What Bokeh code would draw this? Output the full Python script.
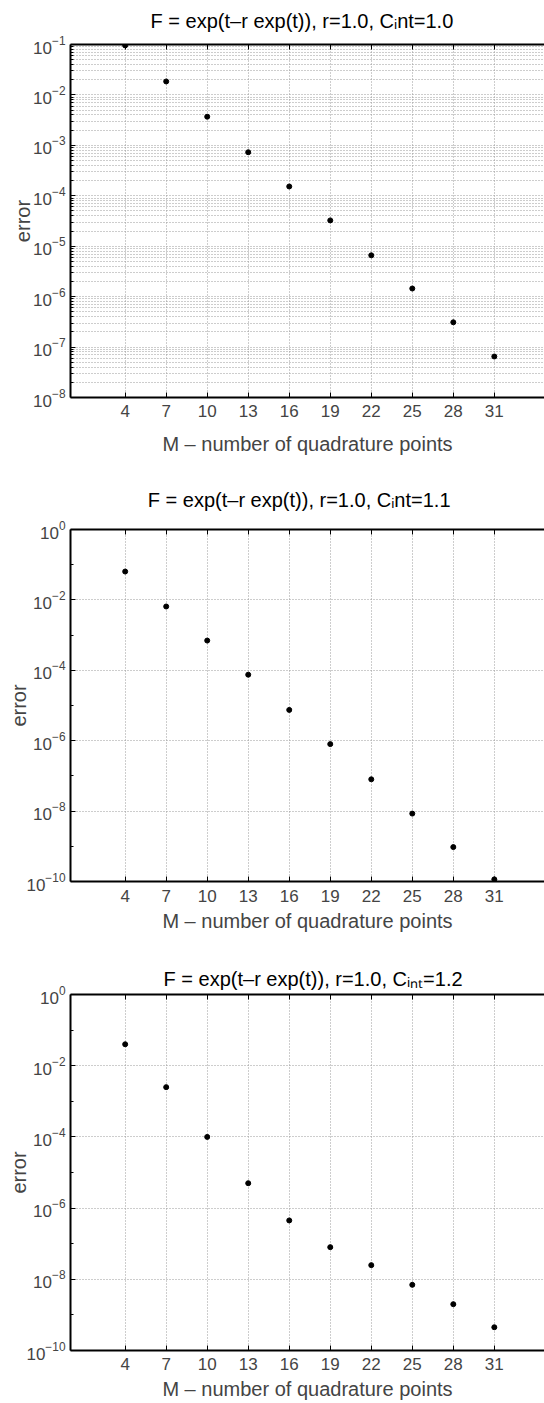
import math
from bokeh.plotting import figure
from bokeh.models import FixedTicker, LinearAxis, Range1d
from bokeh.layouts import column
from bokeh.embed import file_html
from bokeh.resources import INLINE

# ---------------- data ----------------
M = [4, 7, 10, 13, 16, 19, 22, 25, 28, 31]
x_ticks = [4, 7, 10, 13, 16, 19, 22, 25, 28, 31]

err_c10 = [9.6e-2, 1.85e-2, 3.7e-3, 7.3e-4, 1.53e-4, 3.25e-5, 6.6e-6, 1.45e-6, 3.1e-7, 6.5e-8]
err_c11 = [6.4e-2, 6.5e-3, 7.0e-4, 7.5e-5, 7.5e-6, 8.0e-7, 8.0e-8, 8.5e-9, 9.5e-10, 1.15e-10]
err_c12 = [4.0e-2, 2.5e-3, 1.0e-4, 5.0e-6, 4.5e-7, 8.0e-8, 2.5e-8, 7.0e-9, 2.0e-9, 4.5e-10]

titles = [
    "F = exp(t\u2013r exp(t)), r=1.0, C\u1d62nt=1.0",
    "F = exp(t\u2013r exp(t)), r=1.0, C\u1d62nt=1.1",
    "F = exp(t\u2013r exp(t)), r=1.0, C\u1d62\u2099\u209c=1.2",
]
xlabel = "M \u2013 number of quadrature points"
ylabel = "error"

FONT = "Liberation Sans"
GRID = "#9a9a9a"
NBSP = "\u00a0"


def make(err, title, ylo, yhi, major, minor, dense, height, btop, bbot,
         t_gap, pad_l, pad_r, tick_sd, lab_sd, ylab_sd):
    p = figure(width=544, height=height, x_range=Range1d(0, 34.67),
               y_range=Range1d(ylo, yhi), y_axis_type="log",
               output_backend="svg", toolbar_location=None,
               min_border_left=70, min_border_right=0,
               min_border_top=btop, min_border_bottom=bbot)
    p.outline_line_color = None
    p.background_fill_color = "white"
    p.border_fill_color = "white"

    # x axis (bottom)
    xa = p.xaxis[0]
    xa.ticker = FixedTicker(ticks=x_ticks, minor_ticks=[])
    xa.axis_label = xlabel
    xa.axis_label_text_font = FONT
    xa.axis_label_text_font_size = "20px"
    xa.axis_label_text_font_style = "normal"
    xa.axis_label_standoff = lab_sd
    xa.major_label_text_font = FONT
    xa.major_label_text_font_size = "17px"
    xa.major_label_standoff = tick_sd
    xa.major_tick_in = 5
    xa.major_tick_out = 0
    xa.axis_line_width = 2
    xa.major_tick_line_width = 1

    # y axis (left)
    ya = p.yaxis[0]
    ya.ticker = FixedTicker(ticks=major, minor_ticks=minor)
    ya.axis_label = ylabel
    ya.axis_label_text_font = FONT
    ya.axis_label_text_font_size = "20px"
    ya.axis_label_text_font_style = "normal"
    ya.axis_label_standoff = ylab_sd
    ya.major_label_text_font = FONT
    ya.major_label_text_font_size = "17px"
    ya.major_label_standoff = 5
    ya.major_tick_in = 5
    ya.major_tick_out = 0
    ya.minor_tick_in = 3
    ya.minor_tick_out = 0
    ya.axis_line_width = 2

    # box top edge with inward ticks; its axis label carries the title
    top = LinearAxis(ticker=FixedTicker(ticks=x_ticks, minor_ticks=[]),
                     major_label_overrides={t: "" for t in x_ticks},
                     major_label_text_font_size="0px",
                     major_label_standoff=0,
                     major_tick_in=5, major_tick_out=0, axis_line_width=2,
                     axis_label=NBSP * pad_l + title + NBSP * pad_r,
                     axis_label_text_font=FONT,
                     axis_label_text_font_size="20px",
                     axis_label_text_font_style="normal",
                     axis_label_text_color="black",
                     axis_label_standoff=t_gap)
    p.add_layout(top, "above")

    # grids
    p.xgrid.grid_line_color = GRID
    p.xgrid.grid_line_dash = "1 2"
    p.ygrid.ticker = FixedTicker(ticks=major, minor_ticks=minor if dense else [])
    p.ygrid.grid_line_color = GRID
    p.ygrid.grid_line_dash = "1 2"
    if dense:
        p.ygrid.minor_grid_line_color = GRID
        p.ygrid.minor_grid_line_dash = "1 2"

    p.scatter(M, err, size=5, color="black", marker="circle")
    return p


maj1 = [10.0 ** e for e in range(-8, 0)]
min1 = [k * 10.0 ** e for e in range(-8, -1) for k in range(2, 10)]
maj2 = [10.0 ** e for e in range(-10, 1, 2)]
min2 = [10.0 ** e for e in range(-9, 0, 2)]

p1 = make(err_c10, titles[0], 1e-8, 1e-1, maj1, min1, True, 470, 44, 73,
          13, 0, 2, 7, 13, -4)
p2 = make(err_c11, titles[1], 1e-10, 1.0, maj2, min2, False, 465, 59, 54,
          19, 0, 3, 8, 5, -7)
p3 = make(err_c12, titles[2], 1e-10, 1.0, maj2, min2, False, 468, 59, 53,
          5, 2, 0, 7, 5, -7)

layout = column(p1, p2, p3, spacing=0)
open("out.html", "w").write(file_html(layout, INLINE))
